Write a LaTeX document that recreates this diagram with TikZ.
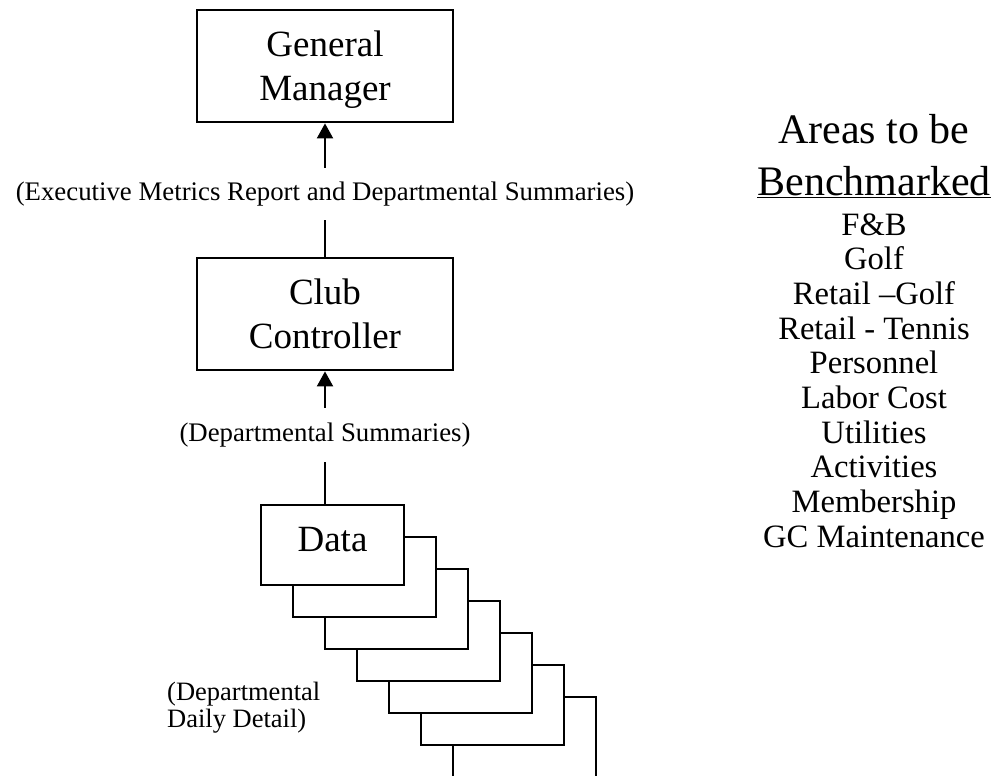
\documentclass[tikz,border=0pt]{standalone}
\usepackage{fontspec}
\setmainfont{Liberation Serif}
\usetikzlibrary{arrows.meta}

\tikzset{
  box/.style={draw,line width=2.8pt,minimum width=256pt,minimum height=112pt,
    align=center,inner sep=0pt,font=\fontsize{37}{44}\selectfont},
  flowlbl/.style={inner sep=0pt,font=\fontsize{26.8}{30}\selectfont},
  uparrow/.style={line width=2pt,-{Triangle[width=16pt,length=15pt]}},
  feed/.style={line width=2pt},
  sheet/.style={draw,fill=white,line width=2.4pt},
  areahead/.style={anchor=base,inner sep=0pt,font=\fontsize{42}{52}\selectfont},
  areaitem/.style={anchor=base,inner sep=0pt,font=\fontsize{32.6}{35}\selectfont},
}

\begin{document}
\begin{tikzpicture}[x=1pt,y=-1pt]
  \useasboundingbox (0,0) rectangle (997,776);
  \clip (0,0) rectangle (997,776);

  % reporting chain
  \node[box] (gm) at (325,66) {General\\\smash{Manager}};
  \node[flowlbl,minimum height=52pt] (execlbl) at (325,194)
    {(Executive Metrics Report and Departmental Summaries)};
  \node[box] (cc) at (325,314) {Club\\Controller};
  \node[flowlbl,minimum height=54pt] (sumlbl) at (325,435) {(Departmental Summaries)};

  % stacked sheets behind the data box
  \foreach \k in {6,5,...,1} {
    \draw[sheet] (261+32*\k,505+32*\k) rectangle ++(143,80);
  }
  \node[sheet,minimum width=143pt,minimum height=80pt,inner sep=0pt,
    text height=26pt,text depth=14pt,font=\fontsize{37}{44}\selectfont]
    (data) at (332.5,545) {Data};
  \node[anchor=north west,align=left,inner sep=0pt,font=\fontsize{26.5}{26.5}\selectfont]
    (detaillbl) at (167,682) {(Departmental\\Daily Detail)};

  \draw[uparrow] (execlbl) -- (gm);
  \draw[feed] (execlbl) -- (cc);
  \draw[uparrow] (sumlbl) -- (cc);
  \draw[feed] (sumlbl) -- (sumlbl |- data.north);

  % benchmark list
  \node[areahead] (areas1) at (874,143) {Areas to be};
  \node[areahead] (areas2) at (874,195) {\underline{Benchmarked}};
  \foreach \txt [count=\i] in {F\&B,Golf,Retail –Golf,Retail - Tennis,Personnel,
                               Labor Cost,Utilities,Activities,Membership,GC Maintenance} {
    \node[areaitem] (item\i) at (874,235+34.7*\i-34.7) {\txt};
  }
\end{tikzpicture}
\end{document}
